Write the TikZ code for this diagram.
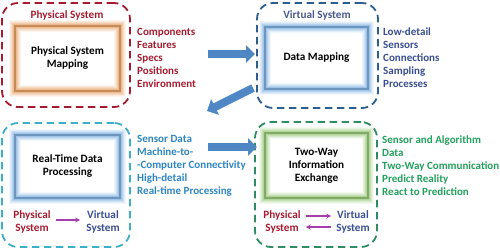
\documentclass[tikz,border=0pt]{standalone}
\usepackage{fontspec}
\setmainfont{Carlito}
\usetikzlibrary{arrows.meta}
\definecolor{pred}{HTML}{A51C30}
\definecolor{vblue}{HTML}{2D5F8E}
\definecolor{vtext}{HTML}{3A4F92}
\definecolor{ccyan}{HTML}{3DB0C8}
\definecolor{ctext}{HTML}{2E86C1}
\definecolor{cgreen}{HTML}{2E8B62}
\definecolor{gtext}{HTML}{22A05C}
\definecolor{bigarrow}{HTML}{4F87C4}
\definecolor{purp}{HTML}{A63DAE}
\definecolor{gorange}{HTML}{E8A468}
\definecolor{gblue}{HTML}{7FB0E0}
\definecolor{ggreen}{HTML}{96C878}
\newcommand\myglow[2]{%
  \foreach \w/\o in {12/0.10, 10/0.14, 8/0.2, 6/0.28, 4/0.4}{%
    \draw[#2, line width=\w pt, opacity=\o] (#1.north west) rectangle (#1.south east);}
  \draw[#2!85!black, line width=1.5pt] (#1.north west) rectangle (#1.south east);}
\tikzset{
  panel/.style={draw, line width=1.8pt, dash pattern=on 7.5pt off 4.5pt, rounded corners=16pt, inner sep=0pt},
  inbox/.style={fill=white, inner sep=0pt, align=center, font=\fontsize{11.2}{13}\selectfont\bfseries},
  lbl/.style={font=\fontsize{11.2}{13}\selectfont\bfseries, inner sep=0pt, align=center},
  lst/.style={font=\fontsize{11}{13}\selectfont\bfseries, inner sep=0pt, align=left, anchor=west},
  big/.style={bigarrow, line width=8pt, -{Triangle[width=17pt,length=9pt]}},
  small/.style={purp, line width=1.3pt, -{Stealth[length=5pt,width=5pt]}}
}
\begin{document}
\begin{tikzpicture}[x=1pt,y=-1pt]
\useasboundingbox (0,0) rectangle (500,250);
% panels
\node[panel, draw=pred, minimum width=128pt, minimum height=104pt] (p1) at (66,55) {};
\node[panel, draw=vblue, minimum width=121pt, minimum height=105pt] (p2) at (317.5,55.5) {};
\node[panel, draw=ccyan, minimum width=128pt, minimum height=124pt] (p3) at (66,185) {};
\node[panel, draw=cgreen, minimum width=122pt, minimum height=125pt] (p4) at (316,184.5) {};
% titles
\node[lbl, text=pred] (t1) at (67,15) {Physical System};
\node[lbl, text=vtext!80!gray] (t2) at (317,15) {Virtual System};
% inner boxes
\node[inbox, minimum width=105pt, minimum height=65pt] (b1) at (67.5,58.5) {Physical System\\Mapping};
\myglow{b1}{gorange}
\node[inbox, minimum width=103pt, minimum height=62pt] (b2) at (316.5,58) {Data Mapping};
\myglow{b2}{gblue}
\node[inbox, minimum width=105pt, minimum height=63pt] (b3) at (67.5,166.5) {Real-Time Data\\Processing};
\myglow{b3}{gblue}
\node[inbox, minimum width=103pt, minimum height=65pt] (b4) at (316.5,165.5) {Two-Way\\Information\\Exchange};
\myglow{b4}{ggreen}
% lists
\node[lst, text=pred] (l1) at (137,58) {Components\\Features\\Specs\\Positions\\Environment};
\node[lst, text=vtext] (l2) at (383,58) {Low-detail\\Sensors\\Connections\\Sampling\\Processes};
\node[lst, text=ctext] (l3) at (137,165.5) {Sensor Data\\Machine-to-\\-Computer Connectivity\\High-detail\\Real-time Processing};
\node[lst, text=gtext] (l4) at (382,165.5) {Sensor and Algorithm\\Data\\Two-Way Communication\\Predict Reality\\React to Prediction};
% bottom labels
\node[lbl, text=pred] (ph3) at (32,221.5) {Physical\\System};
\node[lbl, text=vtext] (vi3) at (103,221.5) {Virtual\\System};
\node[lbl, text=pred] (ph4) at (282,221.5) {Physical\\System};
\node[lbl, text=vtext] (vi4) at (353,221.5) {Virtual\\System};
\draw[small] ([xshift=5pt]ph3.east |- 0,220) coordinate (a3s) -- ([xshift=-6pt]vi3.west |- 0,220) coordinate (a3e);
\draw[small] ([xshift=5pt]ph4.east |- 0,216) coordinate (a4s) -- ([xshift=-5pt]vi4.west |- 0,216) coordinate (a4e);
\draw[small] ([xshift=-5pt]vi4.west |- 0,227) coordinate (a5s) -- ([xshift=5pt]ph4.east |- 0,227) coordinate (a5e);
% big arrows
\coordinate (s1) at (208,54);
\coordinate (e1) at (255,54);
\draw[big] (s1) -- (e1);
\coordinate (s2) at (253,88);
\coordinate (e2) at (207,111);
\draw[big] (s2) -- (e2);
\coordinate (s3) at (208,147);
\coordinate (e3) at (257,147);
\draw[big] (s3) -- (e3);
\end{tikzpicture}
\end{document}
